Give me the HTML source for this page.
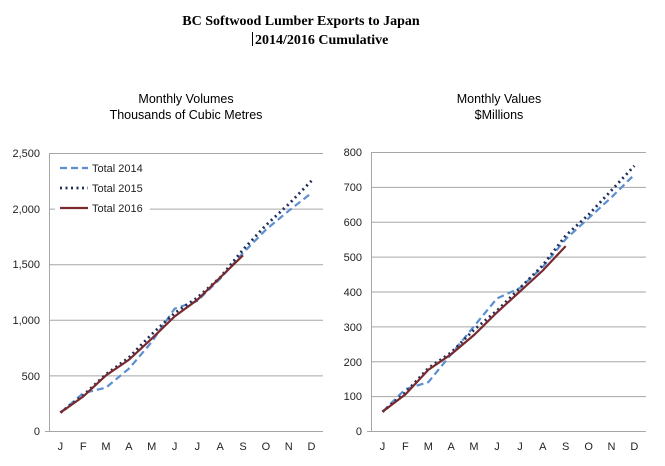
<!DOCTYPE html>
<html><head><style>body{margin:0;background:#fff}svg{display:block}</style></head><body>
<svg width="665" height="466" xmlns="http://www.w3.org/2000/svg" font-family="Liberation Sans, sans-serif">
<rect width="665" height="466" fill="#fff"/>
<text x="301" y="25" text-anchor="middle" font-family="Liberation Serif, serif" font-weight="bold" font-size="14">BC Softwood Lumber Exports to Japan</text>
<text x="255" y="44" font-family="Liberation Serif, serif" font-weight="bold" font-size="14">2014/2016 Cumulative</text>
<line x1="252.5" y1="32" x2="252.5" y2="46" stroke="#000"/>
<text x="186" y="103" text-anchor="middle" font-size="12.5">Monthly  Volumes</text>
<text x="186" y="119" text-anchor="middle" font-size="12.5">Thousands of Cubic Metres</text>
<text x="499" y="103" text-anchor="middle" font-size="12.5">Monthly  Values</text>
<text x="499" y="119" text-anchor="middle" font-size="12.5">$Millions</text>
<g stroke="#a6a6a6" stroke-width="1">
<line x1="49" y1="153.5" x2="323" y2="153.5"/><line x1="49" y1="209.1" x2="323" y2="209.1"/><line x1="49" y1="264.7" x2="323" y2="264.7"/><line x1="49" y1="320.3" x2="323" y2="320.3"/><line x1="49" y1="375.9" x2="323" y2="375.9"/>
<line x1="49.5" y1="153" x2="49.5" y2="431"/><line x1="45" y1="431.5" x2="323" y2="431.5"/>
<line x1="371" y1="152.5" x2="646" y2="152.5"/><line x1="371" y1="187.4" x2="646" y2="187.4"/><line x1="371" y1="222.3" x2="646" y2="222.3"/><line x1="371" y1="257.1" x2="646" y2="257.1"/><line x1="371" y1="292" x2="646" y2="292"/><line x1="371" y1="326.9" x2="646" y2="326.9"/><line x1="371" y1="361.8" x2="646" y2="361.8"/><line x1="371" y1="396.6" x2="646" y2="396.6"/>
<line x1="371.5" y1="152" x2="371.5" y2="431"/><line x1="367" y1="431.5" x2="646" y2="431.5"/>
</g>
<rect x="55" y="158" width="95" height="58" fill="#fff"/>
<g font-size="11" fill="#222" text-anchor="end">
<text x="40" y="157">2,500</text><text x="40" y="213">2,000</text><text x="40" y="268">1,500</text><text x="40" y="324">1,000</text><text x="40" y="380">500</text><text x="40" y="435">0</text>
<text x="362" y="156">800</text><text x="362" y="191">700</text><text x="362" y="226">600</text><text x="362" y="261">500</text><text x="362" y="296">400</text><text x="362" y="331">300</text><text x="362" y="366">200</text><text x="362" y="400">100</text><text x="362" y="435">0</text>
</g>
<g font-size="11" fill="#222" text-anchor="middle">
<text x="60.4" y="450">J</text><text x="83.2" y="450">F</text><text x="106" y="450">M</text><text x="128.9" y="450">A</text><text x="151.7" y="450">M</text><text x="174.6" y="450">J</text><text x="197.4" y="450">J</text><text x="220.2" y="450">A</text><text x="243" y="450">S</text><text x="265.9" y="450">O</text><text x="288.7" y="450">N</text><text x="311.5" y="450">D</text>
<text x="382.5" y="450">J</text><text x="405.4" y="450">F</text><text x="428.3" y="450">M</text><text x="451.2" y="450">A</text><text x="474" y="450">M</text><text x="497" y="450">J</text><text x="520" y="450">J</text><text x="542.8" y="450">A</text><text x="565.7" y="450">S</text><text x="588.6" y="450">O</text><text x="611.5" y="450">N</text><text x="634.4" y="450">D</text>
</g>
<g fill="none" stroke-width="2.2">
<polyline stroke="#5b8fd0" stroke-dasharray="7,4" points="60.4,412.6 83.2,393.2 106,387.6 128.9,368.7 151.7,342 174.6,308.7 197.4,300.9 220.2,278.6 243,253 265.9,229.7 288.7,210.8 311.5,193"/>
<polyline stroke="#1f2f5a" stroke-dasharray="2,3.5" stroke-width="2.8" points="60.4,412.6 83.2,395.4 106,374.3 128.9,357.6 151.7,334.3 174.6,313.1 197.4,297.6 220.2,277.5 243,249.7 265.9,225.3 288.7,204.2 311.5,180.8"/>
<polyline stroke="#7a2a2e" points="60.4,412.6 83.2,396.5 106,375.4 128.9,359.8 151.7,338.7 174.6,316.5 197.4,299.8 220.2,277.5 243,255.3"/>
<polyline stroke="#5b8fd0" stroke-dasharray="7,4" points="382.5,411.8 405.4,389.1 428.3,382.2 451.2,354.2 474,326.3 497,298.4 520,288 542.8,267 565.7,239.1 588.6,218.2 611.5,197.3 634.4,174.6"/>
<polyline stroke="#1f2f5a" stroke-dasharray="2,3.5" stroke-width="2.8" points="382.5,411.8 405.4,392.6 428.3,368.2 451.2,352.5 474,329.8 497,310.6 520,288 542.8,265.3 565.7,235.6 588.6,214.7 611.5,190.3 634.4,165.8"/>
<polyline stroke="#7a2a2e" points="382.5,411.8 405.4,394.4 428.3,369.9 451.2,354.2 474,335 497,312.4 520,291.4 542.8,270.5 565.7,246.1"/>
<line x1="60" y1="168" x2="88" y2="168" stroke="#5b8fd0" stroke-dasharray="7,4"/>
<line x1="60" y1="188" x2="88" y2="188" stroke="#1f2f5a" stroke-dasharray="2,3.5" stroke-width="2.8"/>
<line x1="60" y1="208" x2="88" y2="208" stroke="#7a2a2e"/>
</g>
<g font-size="11" fill="#222"><text x="92" y="172">Total 2014</text><text x="92" y="192">Total 2015</text><text x="92" y="212">Total 2016</text></g>
</svg>
</body></html>
